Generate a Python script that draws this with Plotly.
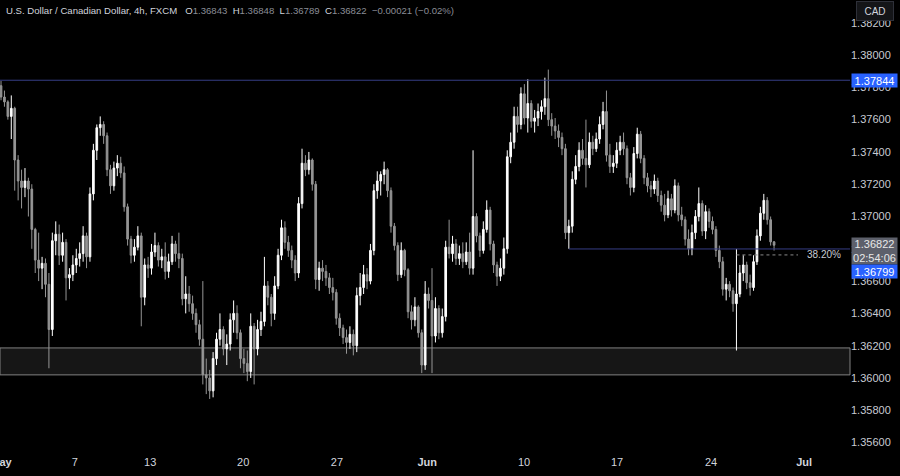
import plotly.graph_objects as go

# USD/CAD 4h candles (FXCM), May 1 -> Jun 27
FIRST_OPEN = 1.3781
CLOSE = [
    1.3774, 1.3771, 1.3762, 1.3767, 1.3735, 1.3722, 1.3718, 1.3722, 1.3717, 1.3692,
    1.3673, 1.3668, 1.3671, 1.3658, 1.3630, 1.3685, 1.3689, 1.3676, 1.3684, 1.3662,
    1.3664, 1.3670, 1.3674, 1.3677, 1.3688, 1.3675, 1.3714, 1.3741, 1.3755, 1.3757,
    1.3750, 1.3729, 1.3719, 1.3730, 1.3733, 1.3727, 1.3706, 1.3686, 1.3676, 1.3681,
    1.3688, 1.3650, 1.3670, 1.3668, 1.3678, 1.3682, 1.3673, 1.3675, 1.3666, 1.3672,
    1.3683, 1.3677, 1.3674, 1.3649, 1.3652, 1.3646, 1.3640, 1.3633, 1.3624, 1.3602,
    1.3600, 1.3592, 1.3612, 1.3624, 1.3630, 1.3618, 1.3621, 1.3636, 1.3640, 1.3628,
    1.3612, 1.3609, 1.3604, 1.3632, 1.3618, 1.3630, 1.3635, 1.3657, 1.3650, 1.3640,
    1.3657, 1.3676, 1.3693, 1.3684, 1.3679, 1.3673, 1.3665, 1.3708, 1.3733, 1.3729,
    1.3735, 1.3720, 1.3661, 1.3668, 1.3666, 1.3662, 1.3656, 1.3653, 1.3637, 1.3631,
    1.3625, 1.3622, 1.3627, 1.3620, 1.3651, 1.3656, 1.3664, 1.3660, 1.3679, 1.3716,
    1.3722, 1.3726, 1.3729, 1.3716, 1.3694, 1.3682, 1.3664, 1.3679, 1.3667, 1.3641,
    1.3636, 1.3644, 1.3628, 1.3608, 1.3652, 1.3648, 1.3626, 1.3643, 1.3628, 1.3638,
    1.3681, 1.3677, 1.3683, 1.3674, 1.3677, 1.3672, 1.3678, 1.3668, 1.3700, 1.3688,
    1.3679, 1.3692, 1.3704, 1.3683, 1.3670, 1.3663, 1.3668, 1.3680, 1.3737, 1.3746,
    1.3762, 1.3757, 1.3776, 1.3761, 1.3770, 1.3759, 1.3761, 1.3765, 1.3768, 1.3773,
    1.3760, 1.3756, 1.3753, 1.3749, 1.3742, 1.3690, 1.3694, 1.3723, 1.3731, 1.3741,
    1.3736, 1.3732, 1.3746, 1.3742, 1.3748, 1.3757, 1.3765, 1.3738, 1.3731, 1.3733,
    1.3741, 1.3746, 1.3742, 1.3724, 1.3718, 1.3739, 1.3751, 1.3736, 1.3724, 1.3719,
    1.3717, 1.3722, 1.3713, 1.3707, 1.3701, 1.3711, 1.3704, 1.3719, 1.3701, 1.3698,
    1.3686, 1.3680, 1.3690, 1.3700, 1.3708, 1.3691, 1.3703, 1.3697, 1.3692, 1.3679,
    1.3672, 1.3655, 1.3658, 1.3654, 1.3646, 1.3652, 1.3665, 1.3670, 1.3659, 1.3656,
    1.3672, 1.3688, 1.3702, 1.3710, 1.3698, 1.36843, 1.36822,
]
HIGH = [
    1.3784, 1.3778, 1.3772, 1.3775, 1.3768, 1.3738, 1.3729, 1.3730, 1.3724, 1.3720,
    1.3693, 1.3690, 1.3675, 1.3674, 1.3665, 1.3690, 1.3697, 1.3695, 1.3690, 1.3686,
    1.3668, 1.3676, 1.3680, 1.3684, 1.3694, 1.3690, 1.3718, 1.3745, 1.3757, 1.3762,
    1.3759, 1.3752, 1.3732, 1.3734, 1.3738, 1.3737, 1.3731, 1.3708, 1.3688, 1.3686,
    1.3694, 1.3690, 1.3674, 1.3675, 1.3683, 1.3690, 1.3684, 1.3680, 1.3684, 1.3677,
    1.3688, 1.3685, 1.3690, 1.3677, 1.3663, 1.3657, 1.3651, 1.3643, 1.3636, 1.3660,
    1.3612, 1.3605, 1.3616, 1.3628, 1.3640, 1.3632, 1.3627, 1.3640, 1.3648, 1.3645,
    1.3630, 1.3618, 1.3617, 1.3640, 1.3634, 1.3636, 1.3641, 1.3675, 1.3660, 1.3652,
    1.3663, 1.3680, 1.3698, 1.3697, 1.3688, 1.3682, 1.3676, 1.3712, 1.3742, 1.3738,
    1.3740, 1.3736, 1.3722, 1.3672, 1.3673, 1.3670, 1.3665, 1.3662, 1.3655, 1.3640,
    1.3633, 1.3630, 1.3632, 1.3630, 1.3656, 1.3665, 1.3670, 1.3668, 1.3683, 1.3720,
    1.3728, 1.3728, 1.3734, 1.3730, 1.3718, 1.3696, 1.3684, 1.3684, 1.3680, 1.3668,
    1.3645, 1.3650, 1.3645, 1.3630, 1.3660, 1.3656, 1.3668, 1.3650, 1.3645, 1.3643,
    1.3685, 1.3698, 1.3688, 1.3686, 1.3682, 1.3684, 1.3684, 1.3690, 1.3741, 1.3702,
    1.3690, 1.3697, 1.3710, 1.3706, 1.3685, 1.3672, 1.3674, 1.3687, 1.3741, 1.3752,
    1.3768, 1.3768, 1.3780, 1.3782, 1.3785, 1.3772, 1.3766, 1.3770, 1.3772, 1.3786,
    1.3791, 1.3764, 1.3761, 1.3757, 1.3752, 1.3745, 1.3698, 1.3728, 1.3738, 1.3746,
    1.3748, 1.3760, 1.3752, 1.3750, 1.3752, 1.3762, 1.3771, 1.3778, 1.3745, 1.3738,
    1.3746, 1.3750, 1.3752, 1.3744, 1.3727, 1.3743, 1.3755, 1.3753, 1.3738, 1.3727,
    1.3722, 1.3726, 1.3724, 1.3716, 1.3714, 1.3716, 1.3714, 1.3723, 1.3721, 1.3706,
    1.3700, 1.3692, 1.3695, 1.3704, 1.3718, 1.3710, 1.3707, 1.3705, 1.3700, 1.3694,
    1.3682, 1.3675, 1.3662, 1.3660, 1.3656, 1.36799, 1.3670, 1.3676, 1.3672, 1.3664,
    1.3676, 1.3692, 1.3706, 1.3714, 1.3712, 1.3700, 1.36848,
]
LOW = [
    1.3772, 1.3768, 1.3760, 1.3748, 1.3716, 1.3710, 1.3705, 1.3712, 1.3700, 1.3680,
    1.3665, 1.3660, 1.3655, 1.3650, 1.3606, 1.3626, 1.3676, 1.3670, 1.3672, 1.3648,
    1.3655, 1.3660, 1.3665, 1.3669, 1.3672, 1.3668, 1.3672, 1.3710, 1.3735, 1.3750,
    1.3745, 1.3725, 1.3714, 1.3716, 1.3725, 1.3724, 1.3703, 1.3682, 1.3671, 1.3672,
    1.3679, 1.3632, 1.3645, 1.3662, 1.3664, 1.3675, 1.3669, 1.3668, 1.3661, 1.3662,
    1.3670, 1.3672, 1.3668, 1.3645, 1.3640, 1.3641, 1.3636, 1.3628, 1.3620, 1.3596,
    1.3590, 1.3587, 1.3588, 1.3608, 1.3620, 1.3614, 1.3608, 1.3617, 1.3628, 1.3624,
    1.3606, 1.3603, 1.3598, 1.3600, 1.3596, 1.3614, 1.3626, 1.3632, 1.3645, 1.3632,
    1.3636, 1.3655, 1.3673, 1.3680, 1.3675, 1.3668, 1.3660, 1.3662, 1.3705, 1.3725,
    1.3726, 1.3716, 1.3655, 1.3654, 1.3660, 1.3657, 1.3652, 1.3648, 1.3633, 1.3626,
    1.3621, 1.3615, 1.3618, 1.3614, 1.3616, 1.3645, 1.3652, 1.3655, 1.3658, 1.3676,
    1.3711, 1.3713, 1.3720, 1.3712, 1.3690, 1.3679, 1.3660, 1.3662, 1.3663, 1.3637,
    1.3630, 1.3632, 1.3625, 1.3603, 1.3605, 1.3643, 1.3603, 1.3622, 1.3624, 1.3625,
    1.3635, 1.3674, 1.3672, 1.3670, 1.3670, 1.3668, 1.3670, 1.3664, 1.3664, 1.3684,
    1.3675, 1.3677, 1.3690, 1.3679, 1.3665, 1.3657, 1.3660, 1.3664, 1.3677, 1.3733,
    1.3742, 1.3752, 1.3754, 1.3757, 1.3752, 1.3755, 1.3752, 1.3756, 1.3760, 1.3763,
    1.3756, 1.3750, 1.3748, 1.3743, 1.3738, 1.3686, 1.3680, 1.3690, 1.3720, 1.3728,
    1.3732, 1.3718, 1.3730, 1.3738, 1.3740, 1.3745, 1.3754, 1.3734, 1.3727, 1.3727,
    1.3730, 1.3738, 1.3738, 1.3720, 1.3713, 1.3715, 1.3736, 1.3733, 1.3720, 1.3715,
    1.3712, 1.3714, 1.3709, 1.3703, 1.3697, 1.3699, 1.3700, 1.3702, 1.3697, 1.3694,
    1.3682, 1.3676, 1.3676, 1.3686, 1.3697, 1.3688, 1.3686, 1.3693, 1.3689, 1.3675,
    1.3668, 1.3651, 1.3648, 1.3650, 1.3641, 1.3617, 1.3650, 1.3660, 1.3655, 1.3651,
    1.3654, 1.3670, 1.3685, 1.3698, 1.3695, 1.3682, 1.36789,
]
OPEN = [FIRST_OPEN] + CLOSE[:-1]

# drawn levels
RESISTANCE = 1.37844
FIB_LEVEL = 1.36799
FIB_382 = 1.36762
ZONE_LOW, ZONE_HIGH = 1.36019, 1.36186
LAST_PRICE = 1.36822
COUNTDOWN = "02:54:06"

X_TICK_POS = [0, 21.6, 43.6, 70.8, 98.2, 124.6, 152.9, 180.1, 207.6, 234.8]
X_TICK_TEXT = ["<b>May</b>", "7", "13", "20", "27", "<b>Jun</b>", "10", "17", "24", "<b>Jul</b>"]

FONT = "Liberation Sans Narrow, Liberation Sans, Arial, sans-serif"
TXT = "#d1d4dc"
GREY = "#8a8d96"
LEVEL_BLUE = "#363d85"

x = list(range(len(CLOSE)))

fig = go.Figure(
    go.Candlestick(
        x=x, open=OPEN, high=HIGH, low=LOW, close=CLOSE,
        increasing=dict(line=dict(color="#ffffff", width=1), fillcolor="#ffffff"),
        decreasing=dict(line=dict(color="#959595", width=1), fillcolor="#959595"),
        whiskerwidth=0,
        hoverinfo="skip",
    )
)

shapes = [
    # support zone
    dict(type="rect", xref="paper", yref="y", x0=0, x1=1, y0=ZONE_LOW, y1=ZONE_HIGH,
         fillcolor="#161616", line=dict(color="#808080", width=1), layer="below"),
    # resistance line
    dict(type="line", xref="paper", yref="y", x0=0, x1=1, y0=RESISTANCE, y1=RESISTANCE,
         line=dict(color=LEVEL_BLUE, width=1)),
    # level from June 12 low
    dict(type="line", xref="x", yref="y", x0=166, x1=250, y0=FIB_LEVEL, y1=FIB_LEVEL,
         line=dict(color=LEVEL_BLUE, width=1)),
    # 38.2% retracement
    dict(type="line", xref="x", yref="y", x0=215, x1=233, y0=FIB_382, y1=FIB_382,
         line=dict(color="#8a8a8a", width=1, dash="dot")),
]

ohlc = f"{OPEN[-1]:.5f}", f"{HIGH[-1]:.5f}", f"{LOW[-1]:.5f}", f"{CLOSE[-1]:.5f}"
chg = CLOSE[-1] - OPEN[-1]
header = (
    "U.S. Dollar / Canadian Dollar, 4h, FXCM&nbsp;&nbsp; "
    f"O<span style='color:{GREY}'>{ohlc[0]}</span>&nbsp; "
    f"H<span style='color:{GREY}'>{ohlc[1]}</span>&nbsp; "
    f"L<span style='color:{GREY}'>{ohlc[2]}</span>&nbsp; "
    f"C<span style='color:{GREY}'>{ohlc[3]}</span>&nbsp; "
    f"<span style='color:{GREY}'>\u2212{abs(chg):.5f} (\u2212{abs(chg) / OPEN[-1] * 100:.2f}%)</span>"
)

annotations = [
    dict(text=header, xref="paper", yref="paper", x=0.005, y=1, xanchor="left", yanchor="top",
         yshift=-3, showarrow=False, font=dict(size=9.6, color=TXT)),
    dict(text="38.20%", xref="x", yref="y", x=235, y=FIB_382, xanchor="left",
         showarrow=False, font=dict(size=10, color="#c8cbd3")),
    # price scale labels
    dict(text=f"{RESISTANCE:.5f}", xref="paper", yref="y", x=1, y=RESISTANCE, xanchor="left",
         xshift=1, showarrow=False, bgcolor="#2962ff", width=45, height=13, borderpad=0,
         font=dict(size=11, color="#ffffff")),
    dict(text=f"{LAST_PRICE:.5f}<br>{COUNTDOWN}", xref="paper", yref="y", x=1, y=LAST_PRICE,
         xanchor="left", yanchor="middle", yshift=-6, xshift=1, showarrow=False,
         bgcolor="#5d606b", width=45, height=26, borderpad=0,
         font=dict(size=11, color="#e8e8e8")),
    dict(text=f"{FIB_LEVEL:.5f}", xref="paper", yref="y", x=1, y=FIB_LEVEL, xanchor="left",
         yshift=-23, xshift=1, showarrow=False, bgcolor="#2962ff", width=45, height=13,
         borderpad=0, font=dict(size=11, color="#ffffff")),
    dict(text="CAD", xref="paper", yref="paper", x=1.0294, y=1, xanchor="center", yanchor="top",
         yshift=-1, showarrow=False, bgcolor="#141518", bordercolor="#2e3039", borderwidth=1,
         width=34, height=16, font=dict(size=10, color=TXT)),
]

fig.update_layout(
    width=900, height=476,
    margin=dict(l=0, r=50, t=0, b=22),
    paper_bgcolor="#000000", plot_bgcolor="#000000",
    font=dict(family=FONT, size=11, color=TXT),
    showlegend=False,
    shapes=shapes,
    annotations=annotations,
    xaxis=dict(
        range=[-0.3, 248.2], rangeslider=dict(visible=False),
        tickmode="array", tickvals=X_TICK_POS, ticktext=X_TICK_TEXT,
        showgrid=False, zeroline=False, showline=False, ticks="",
        ticklabeloverflow="allow", automargin=False,
        tickfont=dict(size=11, color=TXT),
    ),
    yaxis=dict(
        side="right", range=[1.35529, 1.38341],
        tick0=1.356, dtick=0.002, tickformat=".5f",
        showgrid=False, zeroline=False, showline=False, ticks="",
        automargin=False,
        tickfont=dict(size=11, color="#c8cbd3"),
    ),
)

# page body has a default 8px margin; drop it so the figure sits at (0, 0)
fig.write_html(
    "out.html",
    config={"displayModeBar": False},
    post_script="document.body.style.margin='0';document.body.style.background='#000';",
)
